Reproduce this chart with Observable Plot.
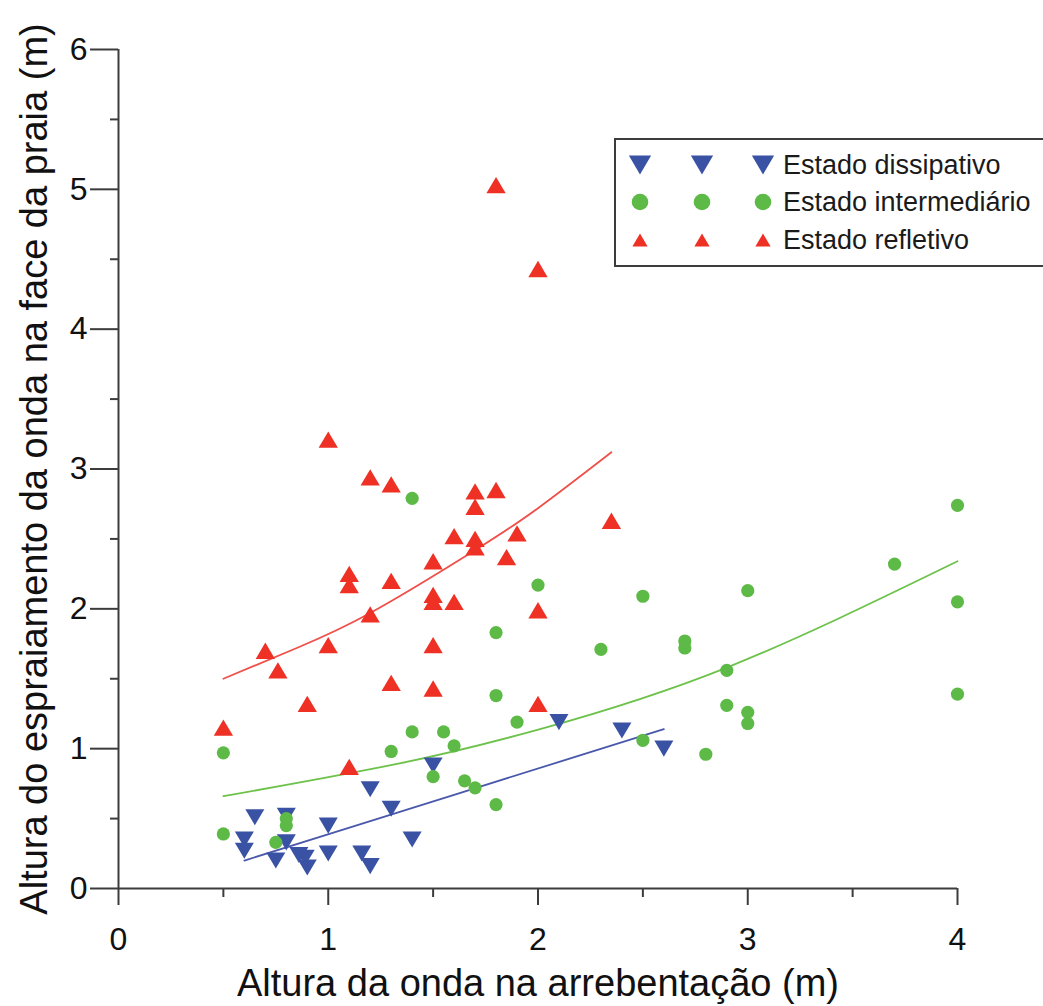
<!DOCTYPE html>
<html>
<head>
<meta charset="utf-8">
<script src="https://cdn.jsdelivr.net/npm/d3@7"></script>
<script src="https://cdn.jsdelivr.net/npm/@observablehq/plot@0.6"></script>
<style>
  html, body { margin: 0; padding: 0; background: #fff; }
  #chart { width: 1043px; height: 1006px; }
</style>
</head>
<body>
<div id="chart"></div>
<script>
// ---- Data ----
const dissipX = [0.65, 0.8, 0.6, 0.6, 0.75, 0.8, 0.86, 0.9, 0.89, 1.0, 1.0, 1.16, 1.2, 1.2, 1.3, 1.4, 1.5, 2.1, 2.4, 2.6];
const dissipY = [0.51, 0.52, 0.35, 0.27, 0.2, 0.33, 0.24, 0.15, 0.22, 0.45, 0.25, 0.25, 0.16, 0.71, 0.57, 0.35, 0.88, 1.19, 1.13, 1.0];

const interX = [0.5, 0.5, 0.75, 0.8, 0.8, 1.3, 1.4, 1.4, 1.5, 1.55, 1.6, 1.65, 1.7, 1.8, 1.8, 1.8, 1.9, 2.0, 2.3, 2.5, 2.5, 2.7, 2.7, 2.8, 2.9, 2.9, 3.0, 3.0, 3.0, 3.7, 4.0, 4.0, 4.0];
const interY = [0.97, 0.39, 0.33, 0.5, 0.45, 0.98, 1.12, 2.79, 0.8, 1.12, 1.02, 0.77, 0.72, 1.83, 1.38, 0.6, 1.19, 2.17, 1.71, 2.09, 1.06, 1.77, 1.72, 0.96, 1.56, 1.31, 2.13, 1.26, 1.18, 2.32, 2.74, 2.05, 1.39];

const reflX = [0.5, 0.7, 0.76, 0.9, 1.0, 1.0, 1.1, 1.1, 1.1, 1.2, 1.2, 1.3, 1.3, 1.3, 1.5, 1.5, 1.5, 1.5, 1.5, 1.6, 1.6, 1.7, 1.7, 1.7, 1.7, 1.8, 1.8, 1.85, 1.9, 2.0, 2.0, 2.0, 2.35];
const reflY = [1.15, 1.7, 1.56, 1.32, 3.21, 1.74, 2.25, 2.17, 0.87, 2.94, 1.96, 2.89, 2.2, 1.47, 2.34, 2.1, 2.05, 1.74, 1.43, 2.52, 2.05, 2.84, 2.73, 2.5, 2.44, 2.85, 5.03, 2.37, 2.54, 4.43, 1.99, 1.32, 2.63];

// Trend curves
const trendDissipX = [0.6, 1.6, 2.6];
const trendDissipY = [0.2, 0.67, 1.14];
const trendInterX = [0.5, 1.34, 2.01, 2.9, 4.0];
const trendInterY = [0.66, 0.895, 1.14, 1.58, 2.34];
const trendReflX = [0.5, 0.85, 1.2, 1.69, 2.0, 2.35];
const trendReflY = [1.5, 1.72, 1.97, 2.41, 2.72, 3.12];

const seriesNames = ["Estado dissipativo", "Estado intermediário", "Estado refletivo"];
const xTicks = [0, 1, 2, 3, 4];
const xMinorTicks = [0.5, 1.5, 2.5, 3.5];
const yTicks = [0, 1, 2, 3, 4, 5, 6];
const yMinorTicks = [0.5, 1.5, 2.5, 3.5, 4.5, 5.5];
const xTitle = "Altura da onda na arrebentação (m)";
const yTitle = "Altura do espraiamento da onda na face da praia (m)";

// ---- Styles ----
const BLUE = "#3a52a4", GREEN = "#5dba47", RED = "#ee3124";
const BLUE_LINE = "#4a58ab", GREEN_LINE = "#6cc24a", RED_LINE = "#f0504a";
const AXIS = "#3c3c3c";
const FONT = "'Liberation Sans', Arial, Helvetica, sans-serif";

const zip = (xs, ys) => xs.map((x, i) => ({x, y: ys[i]}));
const intFmt = d => String(d);

const triDown = {
  draw(ctx, size) {
    const r = Math.sqrt(size / Math.PI);
    const hw = r * 1.36, hh = r * 1.15;
    ctx.moveTo(-hw, -hh); ctx.lineTo(hw, -hh); ctx.lineTo(0, hh); ctx.closePath();
  }
};
const triUp = {
  draw(ctx, size) {
    const r = Math.sqrt(size / Math.PI);
    const hw = r * 1.36, hh = r * 1.15;
    ctx.moveTo(-hw, hh); ctx.lineTo(hw, hh); ctx.lineTo(0, -hh); ctx.closePath();
  }
};

const chart = Plot.plot({
  width: 1043,
  height: 1006,
  marginLeft: 118,
  marginRight: 86,
  marginTop: 49,
  marginBottom: 118,
  style: {fontFamily: FONT, fontSize: "32px", color: AXIS, background: "#fff"},
  x: {domain: [0, 4]},
  y: {domain: [0, 6]},
  marks: [
    Plot.axisX({ticks: xTicks, tickSize: 17, tickPadding: 22, strokeWidth: 2, fontSize: 32, fill: "#111", tickFormat: intFmt, label: null}),
    Plot.axisX({ticks: xMinorTicks, tickSize: 9, strokeWidth: 2, tickFormat: () => "", label: null}),
    Plot.axisY({ticks: yTicks, tickSize: 28, tickPadding: 3, strokeWidth: 2, fontSize: 32, fill: "#111", tickFormat: intFmt, label: null}),
    Plot.axisY({ticks: yMinorTicks, tickSize: 8, strokeWidth: 2, tickFormat: () => "", label: null}),
    Plot.ruleX([0], {stroke: AXIS, strokeWidth: 2}),
    Plot.ruleY([0], {stroke: AXIS, strokeWidth: 2}),
    Plot.line(zip(trendDissipX, trendDissipY), {x: "x", y: "y", stroke: BLUE_LINE, strokeWidth: 1.8, curve: "natural"}),
    Plot.line(zip(trendInterX, trendInterY), {x: "x", y: "y", stroke: GREEN_LINE, strokeWidth: 1.8, curve: "natural"}),
    Plot.line(zip(trendReflX, trendReflY), {x: "x", y: "y", stroke: RED_LINE, strokeWidth: 1.8, curve: "natural"}),
    Plot.dot(zip(dissipX, dissipY), {x: "x", y: "y", symbol: triDown, r: 7, fill: BLUE, stroke: "none"}),
    Plot.dot(zip(interX, interY), {x: "x", y: "y", r: 6.6, fill: GREEN, stroke: "none"}),
    Plot.dot(zip(reflX, reflY), {x: "x", y: "y", symbol: triUp, r: 7.1, fill: RED, stroke: "none"}),
    Plot.text([xTitle], {frameAnchor: "bottom", textAnchor: "middle", dy: 95, lineAnchor: "middle", fontSize: 38, fill: "#111", text: d => d}),
    Plot.text([yTitle], {frameAnchor: "left", textAnchor: "middle", dx: -84, rotate: -90, lineAnchor: "middle", fontSize: 38, fill: "#111", text: d => d})
  ]
});

// ---- Legend box (inside the plotting area, as in the reference) ----
const svg = d3.select(chart);
const lg = svg.append("g").attr("class", "legend").attr("text-anchor", "start");
lg.append("rect")
  .attr("x", 615).attr("y", 139).attr("width", 440).attr("height", 127)
  .attr("fill", "#fff").attr("stroke", AXIS).attr("stroke-width", 2);
const rowsY = [165, 202, 240];
const symX = [640, 702, 763];
const legendSym = [
  {path: d3.symbol(triDown, Math.PI * 8.2 * 8.2)(), fill: BLUE},
  {path: null, r: 8.3, fill: GREEN},
  {path: d3.symbol(triUp, Math.PI * 5.6 * 5.6)(), fill: RED}
];
seriesNames.forEach((name, i) => {
  symX.forEach(sx => {
    const s = legendSym[i];
    if (s.path) {
      lg.append("path").attr("d", s.path).attr("transform", `translate(${sx},${rowsY[i]})`).attr("fill", s.fill);
    } else {
      lg.append("circle").attr("cx", sx).attr("cy", rowsY[i]).attr("r", s.r).attr("fill", s.fill);
    }
  });
  lg.append("text").attr("x", 783).attr("y", rowsY[i]).attr("dy", "0.35em")
    .attr("text-anchor", "start")
    .attr("font-size", 27).attr("font-family", FONT).attr("fill", "#1a1a1a").text(name);
});

document.getElementById("chart").appendChild(chart);
</script>
</body>
</html>
